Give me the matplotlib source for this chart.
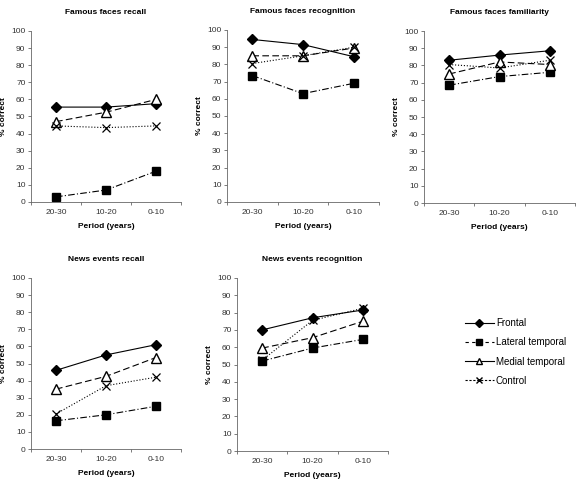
import matplotlib
matplotlib.use("Agg")
import matplotlib.pyplot as plt
from matplotlib.lines import Line2D

plt.rcParams['font.family'] = ['Liberation Sans', 'DejaVu Sans']

periods = ["20-30", "10-20", "0-10"]
groups = ["Frontal", "Lateral temporal", "Medial temporal", "Control"]

# values, order: Frontal, Lateral, Medial, Control
ff_recall = [[55.5, 55.5, 57.5], [3, 7, 18], [47, 52.5, 60], [44.5, 43.5, 44.5]]
ff_recog = [[94.5, 91.5, 84.5], [73.5, 63, 69], [85, 85, 89.5], [80.5, 85, 90]]
ff_famil = [[83, 86, 88.5], [68.5, 73.5, 76], [75, 82, 80.5], [80.5, 78.5, 83]]
ne_recall = [[46, 55, 61], [16.5, 20, 25], [35, 42.5, 53.5], [20.5, 37, 42]]
ne_recog = [[70, 77, 81.5], [52, 59.5, 64.5], [59.5, 65.5, 75], [52.5, 75.5, 82.5]]

titles = ["Famous faces recall", "Famous faces recognition", "Famous faces familiarity",
          "News events recall", "News events recognition"]
panels = [ff_recall, ff_recog, ff_famil, ne_recall, ne_recog]

# pixel boxes (left, top, right, bottom) in a 576x480 figure
boxes = [(31, 31, 181, 202), (227, 30, 379, 202), (424, 31, 575, 203),
         (31, 278, 181, 449), (237, 278, 388, 451)]

styles = [
    dict(ls='-', marker='D', ms=5, mfc='black', mec='black'),
    dict(ls=(0, (6, 2, 1, 2)), marker='s', ms=5.5, mfc='black', mec='black'),
    dict(ls=(0, (6, 3)), marker='^', ms=6.5, mfc='white', mec='black'),
    dict(ls=':', marker='x', ms=6, mfc='none', mec='black', mew=0.9),
]

W, H = 576, 480
fig = plt.figure(figsize=(5.76, 4.8), dpi=100)

x = [1, 2, 3]
for title, data, (l, t, r, b) in zip(titles, panels, boxes):
    ax = fig.add_axes([l / W, (H - b) / H, (r - l) / W, (b - t) / H])
    for vals, st in zip(data, styles):
        ax.plot(x, vals, color='black', lw=0.8, clip_on=False, **st)
    ax.set_xlim(0.5, 3.5)
    ax.set_ylim(0, 100)
    ax.set_yticks(range(0, 101, 10))
    ax.set_xticks(x)
    ax.set_xticklabels(periods)
    ax.set_xticks([0.5, 1.5, 2.5, 3.5], minor=True)
    ax.tick_params(axis='x', which='major', length=0, pad=5, labelsize=6, labelcolor='#333333')
    ax.tick_params(axis='x', which='minor', length=2, color='#666666', width=0.6)
    ax.tick_params(axis='y', length=2, width=0.6, color='#666666', labelsize=6,
                   labelcolor='#333333', pad=2)
    for s in ['top', 'right']:
        ax.spines[s].set_visible(False)
    for s in ['left', 'bottom']:
        ax.spines[s].set_color('#666666')
        ax.spines[s].set_linewidth(0.6)
    ax.set_ylabel("% correct", fontsize=6, fontweight='bold', labelpad=3)
    ax.set_xlabel("Period (years)", fontsize=6, fontweight='bold', labelpad=5)
    ax.set_title(title, fontsize=6, fontweight='bold', pad=12)

# legend handles as drawn in the reference key
leg_styles = [
    dict(ls='-', marker='D', ms=4),
    dict(ls=(0, (3, 3)), marker='s', ms=4.5),
    dict(ls='-', marker='^', ms=5, mfc='white'),
    dict(ls=(0, (2, 1.5)), marker='x', ms=4.5),
]
handles = [Line2D([], [], color='black', mec='black', lw=0.8, **st) for st in leg_styles]
fig.legend(handles, groups, loc='center left', bbox_to_anchor=(456 / W, 1 - 352 / H),
           frameon=False, fontsize=7, handlelength=3, handletextpad=0.2, labelspacing=0.95)

fig.savefig("out.png", dpi=100)
